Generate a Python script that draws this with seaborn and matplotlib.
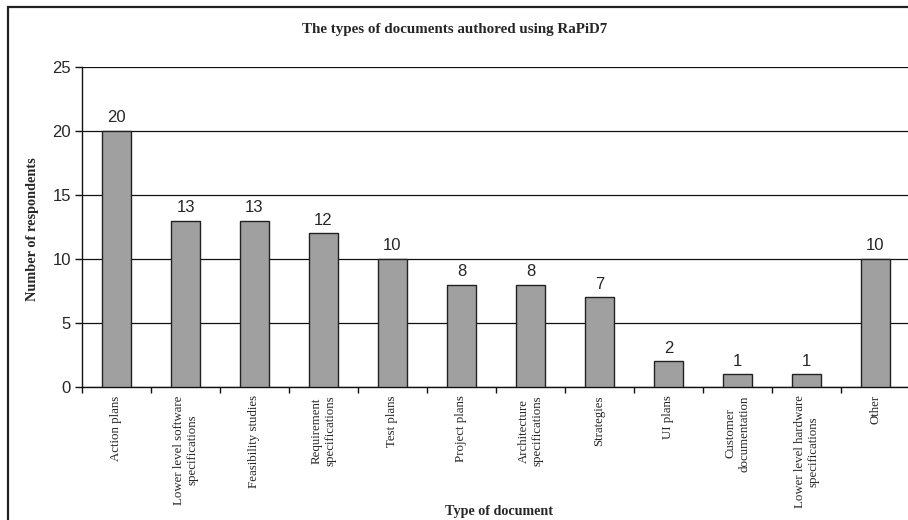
import matplotlib
matplotlib.use("Agg")
import matplotlib.pyplot as plt
from matplotlib.patches import Rectangle
import seaborn as sns
import pandas as pd

# Survey results: document types written with RaPiD7
categories = [
    "Action plans",
    "Lower level software\nspecifications",
    "Feasibility studies",
    "Requirement\nspecifications",
    "Test plans",
    "Project plans",
    "Architecture\nspecifications",
    "Strategies",
    "UI plans",
    "Customer\ndocumentation",
    "Lower level hardware\nspecifications",
    "Other",
]
respondents = [20, 13, 13, 12, 10, 8, 8, 7, 2, 1, 1, 10]
y_ticks = [0, 5, 10, 15, 20, 25]

df = pd.DataFrame({"Type of document": categories, "Number of respondents": respondents})

sns.set_theme(style="white")
plt.rcParams["font.family"] = ["Liberation Sans", "DejaVu Sans"]

W, H = 908, 520
fig = plt.figure(figsize=(W / 100, H / 100), dpi=100)
fig.patch.set_facecolor("white")

# chart-area frame
fig.patches.append(Rectangle((8 / W, -0.1), 1.2, 1 - 7 / H + 0.1,
                             transform=fig.transFigure, fill=False,
                             edgecolor="#222222", linewidth=1.6, zorder=0))

ax = fig.add_axes([82 / W, 1 - 387 / H, 828 / W, 320 / H])
ax.set_facecolor("none")

sns.barplot(data=df, x="Type of document", y="Number of respondents", ax=ax,
            color="#A0A0A0", saturation=1, width=0.42,
            edgecolor="#222222", linewidth=1.0, zorder=3)

ax.set_xlim(-0.5, len(categories) - 0.5)
ax.set_ylim(0, 25)
ax.set_yticks(y_ticks)
ax.set_yticklabels([str(t) for t in y_ticks], fontsize=12, family="Liberation Sans")

# horizontal gridlines
ax.yaxis.grid(True, color="#111111", linewidth=0.9, zorder=0)
ax.set_axisbelow(True)

for side in ("top", "right"):
    ax.spines[side].set_visible(False)
for side in ("left", "bottom"):
    ax.spines[side].set_color("#111111")
    ax.spines[side].set_linewidth(1.0)

# category labels, ticks between categories
ax.set_xticks(range(len(categories)))
ax.set_xticklabels(categories, rotation=90, ha="center", va="top",
                   fontsize=9.3, family="Liberation Serif")
ax.tick_params(axis="x", which="major", length=0, pad=6)
ax.set_xticks([i - 0.5 for i in range(len(categories) + 1)], minor=True)
ax.tick_params(axis="x", which="minor", length=4, width=1, color="#111111",
               direction="out", bottom=True)
ax.tick_params(axis="y", length=5, width=1, color="#111111", direction="out",
               left=True, pad=3)

ax.bar_label(ax.containers[0], labels=[str(v) for v in respondents],
             padding=4, fontsize=12, family="Liberation Sans")

ax.set_xlabel("")
ax.set_ylabel("")
fig.text(33 / W, 1 - 229 / H, "Number of respondents", rotation=90,
         ha="center", va="center", fontsize=10.3, fontweight="bold",
         family="Liberation Serif")
fig.text(499 / W, 1 - 512 / H, "Type of document", ha="center", va="center",
         fontsize=10.2, fontweight="bold", family="Liberation Serif")
fig.text(455 / W, 1 - 30 / H, "The types of documents authored using RaPiD7",
         ha="center", va="center", fontsize=10.8, fontweight="bold",
         family="Liberation Serif")

fig.savefig("out.png", dpi=100, facecolor="white")
